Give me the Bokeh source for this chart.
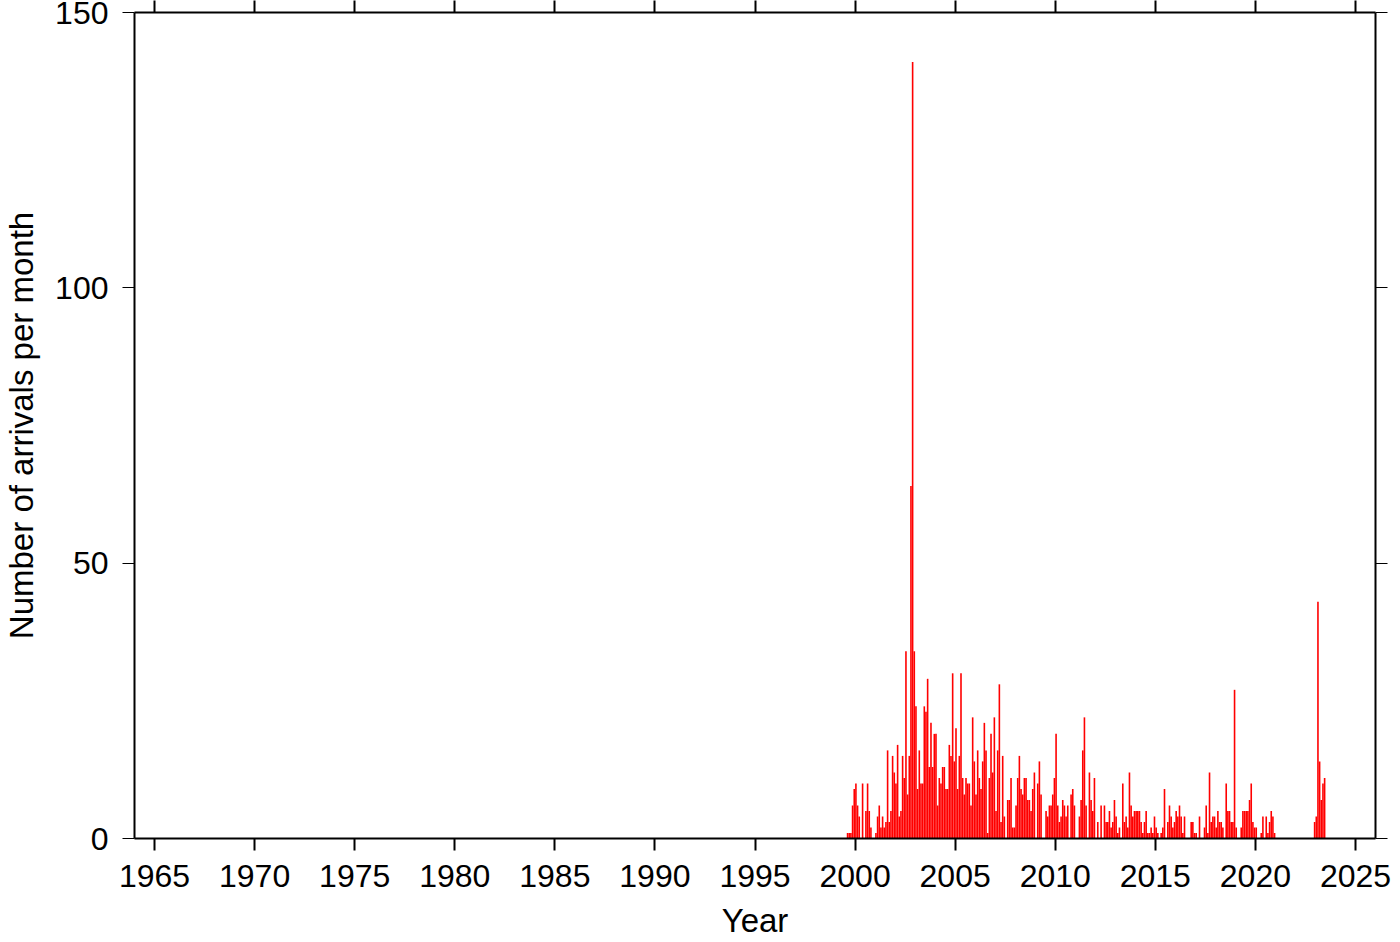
import pandas as pd
from bokeh.plotting import figure
from bokeh.models import LinearAxis, FixedTicker, Range1d, ColumnDataSource
from bokeh.embed import file_html
from bokeh.resources import INLINE

# ---------------- data ----------------
first_month = "1999-08"   # first month of the monthly series
monthly_arrivals = [
    # 1999 Aug-Dec
    1, 1, 1, 6, 9,
    # 2000
    10, 6, 4, 0, 10, 0, 5, 10, 5, 2, 0, 0,
    # 2001
    1, 4, 6, 2, 4, 2, 3, 16, 3, 5, 15, 12,
    # 2002
    10, 17, 4, 5, 15, 11, 34, 8, 15, 64, 141, 34,
    # 2003
    24, 9, 16, 10, 10, 24, 23, 29, 13, 21, 13, 19,
    # 2004
    19, 6, 11, 10, 13, 13, 9, 9, 17, 15, 30, 14,
    # 2005
    20, 9, 15, 30, 11, 8, 11, 10, 10, 6, 22, 14,
    # 2006
    8, 16, 11, 9, 14, 21, 16, 1, 11, 19, 12, 22,
    # 2007
    5, 16, 28, 3, 15, 4, 0, 7, 7, 11, 2, 2,
    # 2008
    6, 11, 15, 9, 8, 11, 11, 7, 7, 5, 9, 12,
    # 2009
    0, 10, 14, 8, 0, 0, 5, 4, 6, 6, 8, 11,
    # 2010
    19, 6, 3, 4, 7, 6, 4, 6, 0, 8, 9, 6,
    # 2011
    0, 0, 4, 7, 16, 22, 6, 0, 12, 7, 5, 11,
    # 2012
    0, 3, 0, 6, 0, 6, 3, 3, 5, 2, 3, 7,
    # 2013
    4, 1, 2, 0, 10, 3, 4, 2, 12, 6, 4, 5,
    # 2014
    5, 5, 5, 3, 1, 3, 5, 1, 1, 2, 1, 4,
    # 2015
    2, 1, 0, 1, 2, 9, 0, 3, 6, 4, 2, 3,
    # 2016
    5, 4, 6, 4, 1, 4, 0, 0, 0, 3, 3, 1,
    # 2017
    1, 0, 4, 0, 0, 2, 6, 1, 12, 3, 4, 4,
    # 2018
    2, 5, 3, 3, 2, 0, 10, 5, 5, 3, 3, 27,
    # 2019
    2, 0, 0, 2, 5, 5, 5, 5, 7, 10, 3, 2,
    # 2020
    2, 0, 0, 1, 4, 0, 4, 1, 3, 5, 4, 1,
    # 2021
    0, 0, 0, 0, 0, 0, 0, 0, 0, 0, 0, 0,
    # 2022
    0, 0, 0, 0, 0, 0, 0, 0, 0, 0, 0, 3,
    # 2023 Jan-Jun
    4, 43, 14, 7, 10, 11,
]
year_ticks = [1965, 1970, 1975, 1980, 1985, 1990, 1995, 2000, 2005, 2010, 2015, 2020, 2025]
count_ticks = [0, 50, 100, 150]
x_label = "Year"
y_label = "Number of arrivals per month"

# ---------------- derived positions ----------------
dates = pd.date_range(first_month, periods=len(monthly_arrivals), freq="MS")
decimal_year = [d.year + (d.month - 1) / 12.0 + 1.0 / 24.0 for d in dates]
src = ColumnDataSource(data=dict(x=decimal_year, top=monthly_arrivals))

FONT = "Liberation Sans"
FS = "32px"
FS_TITLE = "33px"

p = figure(
    width=1400, height=942,
    x_range=Range1d(1964, 2026), y_range=Range1d(0, 150),
    output_backend="svg", toolbar_location=None,
    min_border_left=134, min_border_right=25,
    min_border_top=12, min_border_bottom=104,
    x_axis_location=None, y_axis_location=None,
)
p.grid.visible = False
p.outline_line_color = None
p.background_fill_color = "white"
p.border_fill_color = "white"

p.vbar(x="x", top="top", bottom=0, width=0.08, source=src,
       fill_color="#ff0000", line_color=None)

def style(ax, tick_w):
    ax.axis_line_color = "black"
    ax.axis_line_width = 2
    ax.major_tick_line_color = "black"
    ax.major_tick_line_width = tick_w
    ax.major_tick_in = 0
    ax.minor_tick_line_color = None
    ax.major_label_text_font = FONT
    ax.major_label_text_font_size = FS
    ax.major_label_text_color = "black"
    ax.axis_label_text_font = FONT
    ax.axis_label_text_font_size = FS_TITLE
    ax.axis_label_text_font_style = "normal"
    ax.axis_label_text_color = "black"

# bottom axis
xb = LinearAxis(ticker=FixedTicker(ticks=year_ticks), axis_label=x_label)
style(xb, 2)
xb.major_tick_out = 12
xb.major_label_standoff = 14
xb.axis_label_standoff = 12
p.add_layout(xb, "below")

# top axis (ticks only)
xt = LinearAxis(ticker=FixedTicker(ticks=year_ticks))
style(xt, 2)
xt.major_tick_out = 12
xt.major_label_text_font_size = "0px"
xt.major_label_standoff = 0
xt.major_label_text_color = None
p.add_layout(xt, "above")

# left axis
yl = LinearAxis(ticker=FixedTicker(ticks=count_ticks), axis_label=y_label)
style(yl, 1.2)
yl.major_tick_out = 12
yl.major_label_standoff = 14
yl.axis_label_standoff = 12
p.add_layout(yl, "left")

# right axis (ticks only)
yr = LinearAxis(ticker=FixedTicker(ticks=count_ticks))
style(yr, 1.2)
yr.major_tick_out = 12
yr.major_label_text_font_size = "0px"
yr.major_label_standoff = 0
yr.major_label_text_color = None
p.add_layout(yr, "right")

open("out.html", "w").write(file_html(p, INLINE))
